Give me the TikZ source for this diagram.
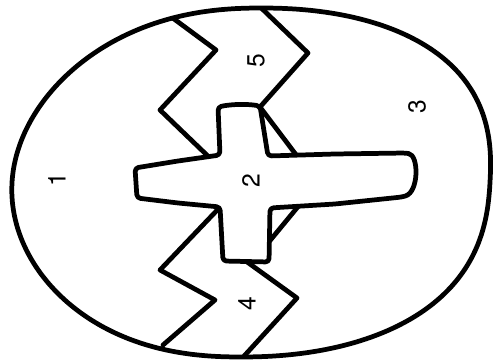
\documentclass[tikz,border=0pt]{standalone}
\usepackage{fontspec}
\setsansfont{TeX Gyre Heros}

\begin{document}
\begin{tikzpicture}[
    x=0.02cm, y=-0.02cm,
    line width=2.7pt, line join=round, line cap=round,
    declare function={eggn(\t)=2.2+0.2*cos(\t);
        eggv(\t)=sin(\t)*pow(abs(sin(\t)),2/eggn(\t)-1);
        eggx(\t)=251+239*cos(\t)*pow(abs(cos(\t)),2/eggn(\t)-1)-10*eggv(\t);
        eggy(\t)=182.5+174.5*eggv(\t);},
    shell/.style={draw, line width=2.7pt},
    crack/.style={draw},
    cross/.style={draw, fill=white, rounded corners=2pt},
    num/.style={font=\sffamily\fontsize{14}{16}\selectfont, rotate=90, inner sep=0pt}]

    \useasboundingbox (0,0) rectangle (493,364);

    % praskliny uvnitr skorapky
    \begin{scope}
        \clip plot[domain=1:357, samples=90, smooth cycle] ({eggx(\x)}, {eggy(\x)});
        \draw[crack] (170,16) -- (216,50) -- (160,110) -- (212,160);
        \draw[crack] (255,2) -- (308,53) -- (260,107) -- (300,160);
        \draw[crack] (301,203) -- (268,243);
        \draw[crack] (223,204) -- (160,270) -- (215,300) -- (163,345);
        \draw[crack] (243,259) -- (297,298) -- (235,366);
    \end{scope}

    % kriz uprostred
    \draw[cross] (218,107) .. controls (232,104) and (248,104) .. (260,106)
        -- (268,156) -- (335,154) -- (405,153)
        .. controls (419,155) and (419,192) .. (402,197)
        -- (335,204) -- (270,208) -- (269,262) -- (223,261) -- (220,207)
        -- (178,203) -- (137,198) -- (135,168) -- (178,161) -- (220,155) -- cycle;

    % obrys vajicka
    \draw[shell] plot[domain=1:357, samples=90, smooth cycle] ({eggx(\x)}, {eggy(\x)});

    % cisla dilku
    \node[num] (n1) at (57,180) {1};
    \node[num] (n2) at (251,181) {2};
    \node[num] (n3) at (417,107) {3};
    \node[num] (n4) at (247,304) {4};
    \node[num] (n5) at (256,61) {5};
\end{tikzpicture}
\end{document}
